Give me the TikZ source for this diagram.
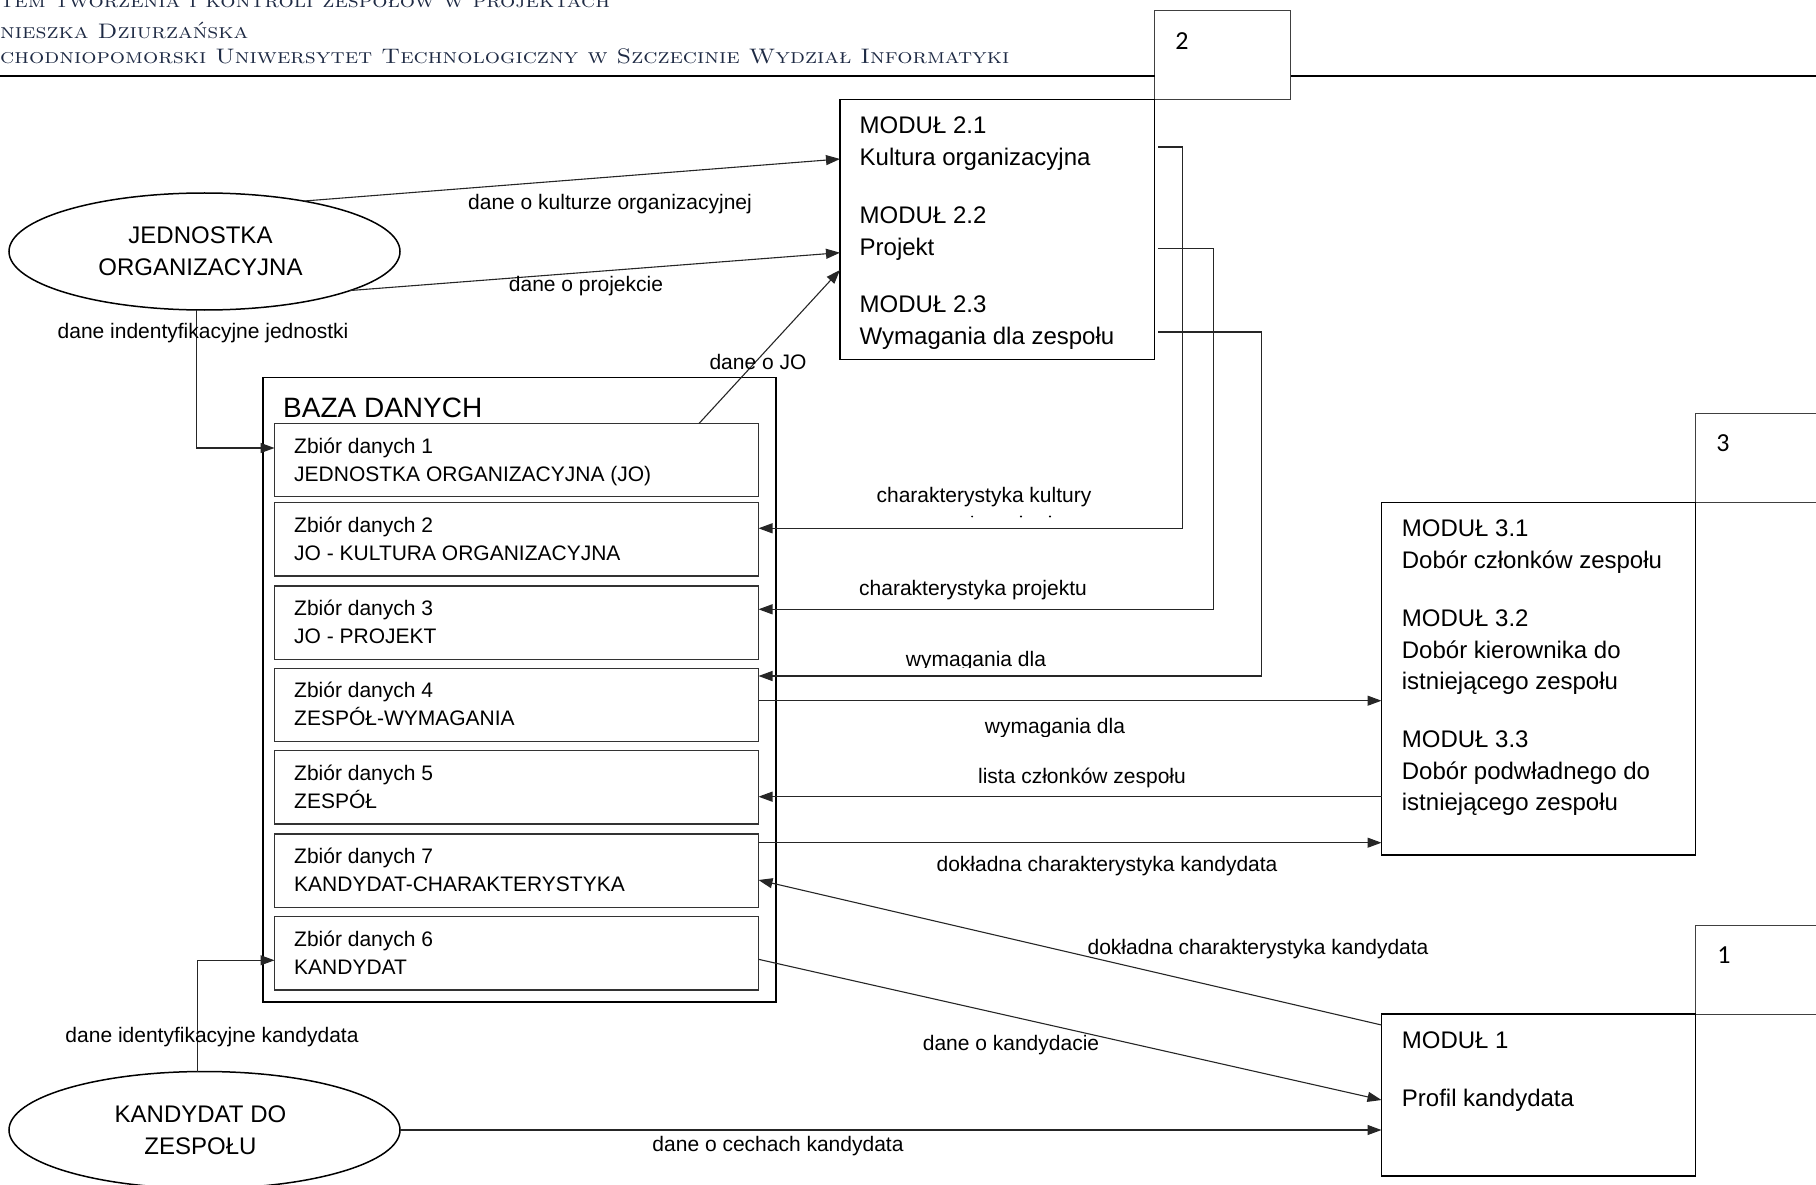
\documentclass[tikz,border=0pt]{standalone}
\usepackage{fontspec}
\newfontfamily\arialf{Liberation Sans}
\newfontfamily\calibf{Carlito}
\usetikzlibrary{arrows.meta,calc,shapes.geometric}
\definecolor{hdr}{RGB}{30,42,68}
\newcommand{\hstretch}[1]{\scalebox{1.143}[1]{#1}}
\begin{document}
\begin{tikzpicture}[x=1pt,y=-1pt,
 box/.style={draw=black, line width=1.5pt, fill=white, inner sep=0pt, outer sep=0pt, anchor=north west},
 zbox/.style={draw=black!80, line width=1.3pt, inner sep=0pt, outer sep=0pt, anchor=north west, minimum width=484pt, minimum height=73.3pt},
 numbox/.style={draw=black!75, line width=1pt, fill=white, inner sep=0pt, outer sep=0pt, anchor=north west},
 ent/.style={ellipse, draw, line width=1.5pt, minimum width=391pt, minimum height=117pt, inner sep=0pt, outer sep=0pt, align=center, font=\arialf\fontsize{24}{32}\selectfont},
 mt/.style={anchor=base west, inner sep=0pt, font=\arialf\fontsize{24}{29}\selectfont},
 zt/.style={anchor=base west, inner sep=0pt, font=\arialf\fontsize{21}{25}\selectfont},
 lbl/.style={inner sep=0pt, font=\arialf\fontsize{21}{25}\selectfont},
 numt/.style={inner sep=0pt, font=\calibf\fontsize{26}{30}\selectfont},
 hdrt/.style={anchor=base west, inner sep=0pt, text=hdr, font=\fontsize{21}{24}\selectfont\scshape},
 arr/.style={draw=black!85, line width=1.1pt, -{Triangle[length=14pt,width=10pt]}},
]
\useasboundingbox (0,0) rectangle (1816,1185);

% header
\node[hdrt] (h1) at (0,7.5) {\hstretch{tem tworzenia i kontroli zespołów w projektach}};
\node[hdrt] (h2) at (0,38.3) {\hstretch{nieszka Dziurzańska}};
\node[hdrt] (h3) at (0,63.3) {\hstretch{chodniopomorski Uniwersytet Technologiczny w Szczecinie Wydział Informatyki}};

\node[numbox, minimum width=136.1pt, minimum height=88.3pt] (b2) at (1154.5,11) {};
\node[numt] (n2) at (1182,41) {2};
\coordinate (hl) at (0,76);
\coordinate (hr) at (1816,76);
\draw[line width=2pt] (hl) -- (hl -| b2.west);
\draw[line width=2pt] (hr) -- (hr -| b2.east);

% module 2
\node[box, minimum width=314.5pt, minimum height=260pt] (m2) at (840,99.3) {};
\node[mt] (m2a) at (859.5,133.6) {MODUŁ 2.1};
\node[mt] (m2b) at (859.5,165.6) {Kultura organizacyjna};
\node[mt] (m2c) at (859.5,223.6) {MODUŁ 2.2};
\node[mt] (m2d) at (859.5,255.6) {Projekt};
\node[mt] (m2e) at (859.5,312.6) {MODUŁ 2.3};
\node[mt] (m2f) at (859.5,344.6) {Wymagania dla zespołu};

% module 3
\node[numbox, minimum width=200pt, minimum height=89pt] (b3) at (1695.7,413.3) {};
\node[numt] (n3) at (1723,443.3) {3};
\node[box, minimum width=314.2pt, minimum height=352.7pt] (m3) at (1381.5,502.3) {};
\node[mt] (m3a) at (1401.7,536.3) {MODUŁ 3.1};
\node[mt] (m3b) at (1401.7,568.3) {Dobór członków zespołu};
\node[mt] (m3c) at (1401.7,626.6) {MODUŁ 3.2};
\node[mt] (m3d) at (1401.7,658.1) {Dobór kierownika do};
\node[mt] (m3e) at (1401.7,689.6) {istniejącego zespołu};
\node[mt] (m3f) at (1401.7,747.6) {MODUŁ 3.3};
\node[mt] (m3g) at (1401.7,779.1) {Dobór podwładnego do};
\node[mt] (m3h) at (1401.7,810.6) {istniejącego zespołu};

% module 1
\node[numbox, minimum width=200pt, minimum height=89pt] (b1) at (1695.7,925) {};
\node[numt] (n1) at (1724,955) {1};
\node[box, minimum width=314.2pt, minimum height=162pt] (m1) at (1381.5,1014) {};
\node[mt] (m1a) at (1401.7,1048.6) {MODUŁ 1};
\node[mt] (m1b) at (1401.7,1106) {Profil kandydata};

% entities
\node[ent] (jo) at (204.5,251.5) {JEDNOSTKA\kern8pt\\ORGANIZACYJNA\kern8pt};
\node[ent] (kz) at (204.5,1130) {KANDYDAT DO\kern8pt\\ZESPOŁU\kern8pt};

% database
\node[box, minimum width=513pt, minimum height=624.5pt] (db) at (263,377.5) {};
\node[anchor=base west, inner sep=0pt, font=\arialf\fontsize{28}{32}\selectfont] (dbt) at (283,417) {BAZA DANYCH};
\foreach \n/\t/\a/\b in {1/423.5/Zbiór danych 1/JEDNOSTKA ORGANIZACYJNA (JO),
  2/502.8/Zbiór danych 2/JO - KULTURA ORGANIZACYJNA,
  3/586/Zbiór danych 3/JO - PROJEKT,
  4/668.3/Zbiór danych 4/ZESPÓŁ-WYMAGANIA,
  5/750.7/Zbiór danych 5/ZESPÓŁ,
  7/834/Zbiór danych 7/KANDYDAT-CHARAKTERYSTYKA,
  6/916.7/Zbiór danych 6/KANDYDAT}{
  \node[zbox] (z\n) at (274.5,\t) {};
  \node[zt] (za\n) at ($(z\n.north west)+(19.5,29.5)$) {\a};
  \node[zt] (zb\n) at ($(z\n.north west)+(19.5,57.5)$) {\b};
}

% connectors
\draw[arr] (jo.27.2) -- ($(m2.north west)+(0,59.7)$);
\draw[arr] (jo.-15.75) -- ($(m2.north west)+(0,153.4)$);
\draw[arr] ($(z1.north west)+(424.5,0)$) -- ($(m2.north west)+(0,170.7)$);
\draw[arr] (jo.-98.3) |- ($(z1.north west)+(0,24.5)$);

\draw[arr] ($(m2.north east)+(3.5,47.7)$) -| ($(z2.north east)+(424,25.5)$) -- ($(z2.north east)+(0,25.5)$);
\draw[arr] ($(m2.north east)+(3.5,149.4)$) -| ($(z3.north east)+(455,23.3)$) -- ($(z3.north east)+(0,23.3)$);
\draw[arr] ($(m2.north east)+(3.5,232.7)$) -| ($(z4.north east)+(503,7.7)$) -- ($(z4.north east)+(0,7.7)$);

\coordinate (c8) at ($(z4.north east)+(0,32.4)$);
\draw[arr] (c8) -- (c8 -| m3.west);
\coordinate (c9) at ($(z5.north east)+(0,46)$);
\draw[arr] (c9 -| m3.west) -- (c9);
\coordinate (c10) at ($(z7.north east)+(0,8.7)$);
\draw[arr] (c10) -- (c10 -| m3.west);

\draw[arr] ($(m1.north west)+(0,11)$) -- ($(z7.north east)+(0,46)$);
\draw[arr] ($(z6.north east)+(0,42.6)$) -- ($(m1.north west)+(0,86)$);
\draw[arr] (kz.97.3) |- ($(z6.north west)+(0,43.6)$);
\draw[arr] (kz.east) -- (kz.east -| m1.west);

% labels
\node[lbl] (l1) at (610,204.5) {dane o kulturze organizacyjnej};
\node[lbl] (l2) at (586,286) {dane o projekcie};
\node[lbl] (l3) at (203,333) {dane indentyfikacyjne jednostki};
\node[lbl] (l4) at (758,362) {dane o JO};
\node[lbl] (l5) at (984,497) {charakterystyka kultury};
\fill (972,516.5) circle (1pt) (1021,516.5) circle (1.2pt) (1050,516.5) circle (1.2pt);
\node[lbl] (l6) at (973,590) {charakterystyka projektu};
\begin{scope}
\clip (850,640) rectangle (1100,667);
\node[lbl] (l7) at (976,661) {wymagania dla};
\end{scope}
\begin{scope}
\clip (950,705) rectangle (1160,736);
\node[lbl] (l8) at (1055,728) {wymagania dla};
\end{scope}
\node[lbl] (l9) at (1082,778) {lista członków zespołu};
\node[lbl] (l10) at (1107,866) {dokładna charakterystyka kandydata};
\node[lbl] (l11) at (1258,949) {dokładna charakterystyka kandydata};
\node[lbl] (l12) at (1011,1045) {dane o kandydacie};
\node[lbl] (l13) at (212,1037) {dane identyfikacyjne kandydata};
\node[lbl] (l14) at (778,1146) {dane o cechach kandydata};
\end{tikzpicture}
\end{document}
